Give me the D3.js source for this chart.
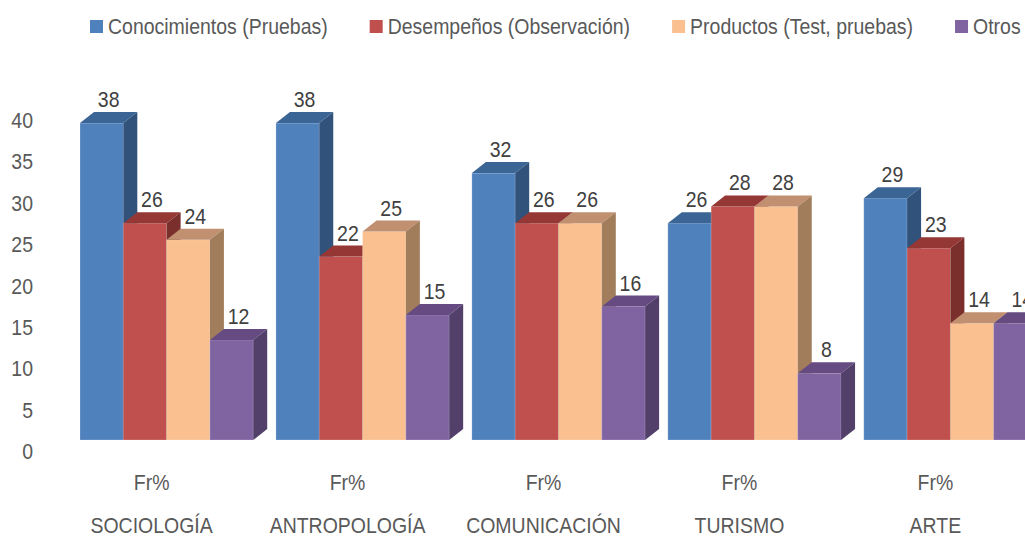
<!DOCTYPE html>
<html>
<head>
<meta charset="utf-8">
<script src="https://d3js.org/d3.v7.min.js"></script>
<style>
  body { margin: 0; background: #fff; }
  text { font-family: "Liberation Sans", Arial, sans-serif; fill: #595959; }
</style>
</head>
<body>
<div id="chart"></div>
<script>
// data
var categories = ["SOCIOLOGÍA", "ANTROPOLOGÍA", "COMUNICACIÓN", "TURISMO", "ARTE"];
var seriesNames = ["Conocimientos (Pruebas)", "Desempeños (Observación)", "Productos (Test, pruebas)", "Otros"];
var conocimientos = [38, 38, 32, 26, 29];
var desempenos = [26, 22, 26, 28, 23];
var productos = [24, 25, 26, 28, 14];
var otros = [12, 15, 16, 8, 14];
var subLabel = "Fr%";
var yTicks = [0, 5, 10, 15, 20, 25, 30, 35, 40];

var seriesValues = [conocimientos, desempenos, productos, otros];

var width = 1025, height = 536;
var depthX = 14, depthY = 11;
var narrow = 0.885; // no Arial Narrow here, squeeze Liberation Sans instead

// face colours: front, top, side
var colors = d3.scaleOrdinal().domain(seriesNames)
    .range(["#4f81bd", "#c0504d", "#fac090", "#8064a2"]);
var topColors = d3.scaleOrdinal().domain(seriesNames)
    .range(["#3b6595", "#953735", "#c09070", "#654b82"]);
var sideColors = d3.scaleOrdinal().domain(seriesNames)
    .range(["#31527a", "#7b2f2d", "#a27d5c", "#523f6a"]);

function condense(sel) {
    sel.each(function() {
        var w = this.getComputedTextLength();
        d3.select(this)
            .attr("textLength", w * narrow)
            .attr("lengthAdjust", "spacingAndGlyphs");
    });
}

var svg = d3.select("#chart").append("svg")
    .attr("width", width)
    .attr("height", height);

var x0 = d3.scaleBand()
    .domain(categories)
    .range([80, 1037])
    .paddingInner(0.116)
    .paddingOuter(0);

var x1 = d3.scaleBand()
    .domain(seriesNames)
    .range([0, x0.bandwidth()]);

var y = d3.scaleLinear().domain([0, 40]).range([440, 106.4]);
var yAxisScale = d3.scaleLinear().domain([0, 40]).range([451.5, 120.5]);

// y axis (labels only)
var yAxis = svg.append("g")
    .attr("transform", "translate(33,0)")
    .call(d3.axisLeft(yAxisScale).tickValues(yTicks).tickSize(0).tickPadding(0));
yAxis.select(".domain").remove();
yAxis.selectAll("text")
    .attr("fill", "#595959")
    .style("font-size", "22px")
    .call(condense);

// bars
var bars = [];
categories.forEach(function(c, i) {
    seriesNames.forEach(function(s, j) {
        bars.push({cat: c, series: s, value: seriesValues[j][i]});
    });
});

var barG = svg.selectAll(".bar")
    .data(bars)
    .enter()
    .append("g")
    .attr("class", "bar");

function pts(arr) { return arr.map(function(p) { return p.join(","); }).join(" "); }

barG.each(function(d) {
    var g = d3.select(this);
    var xl = x0(d.cat) + x1(d.series);
    var xr = xl + x1.bandwidth();
    var yt = y(d.value), yb = y(0);

    g.append("rect")
        .attr("x", xl).attr("y", yt)
        .attr("width", xr - xl).attr("height", yb - yt)
        .attr("fill", colors(d.series))
        .attr("stroke", "rgba(255,255,255,0.25)")
        .attr("stroke-width", 0.8);

    g.append("polygon")
        .attr("points", pts([[xl, yt], [xr, yt], [xr + depthX, yt - depthY], [xl + depthX, yt - depthY]]))
        .attr("fill", topColors(d.series));

    g.append("polygon")
        .attr("points", pts([[xr, yt], [xr + depthX, yt - depthY], [xr + depthX, yb - depthY], [xr, yb]]))
        .attr("fill", sideColors(d.series));

    g.append("text")
        .attr("x", (xl + xr) / 2 + 7)
        .attr("y", yt - depthY - 5)
        .attr("text-anchor", "middle")
        .style("font-size", "22px")
        .style("fill", "#404040")
        .text(d.value)
        .call(condense);
});

// category labels
var catG = svg.selectAll(".cat")
    .data(categories)
    .enter()
    .append("g")
    .attr("class", "cat");

catG.append("text")
    .attr("x", function(d) { return x0(d) + x0.bandwidth() / 2 - 15; })
    .attr("y", 490)
    .attr("text-anchor", "middle")
    .style("font-size", "22px")
    .text(subLabel)
    .call(condense);

catG.append("text")
    .attr("x", function(d) { return x0(d) + x0.bandwidth() / 2 - 15; })
    .attr("y", 533)
    .attr("text-anchor", "middle")
    .style("font-size", "22px")
    .text(function(d) { return d; })
    .call(condense);

// legend
var legendX = 90;
seriesNames.forEach(function(s) {
    svg.append("rect")
        .attr("x", legendX).attr("y", 20)
        .attr("width", 13).attr("height", 13)
        .attr("fill", colors(s));
    var t = svg.append("text")
        .attr("x", legendX + 18)
        .attr("y", 34)
        .style("font-size", "22px")
        .text(s)
        .call(condense);
    legendX = legendX + 18 + (+t.attr("textLength")) + 42;
});
</script>
</body>
</html>
